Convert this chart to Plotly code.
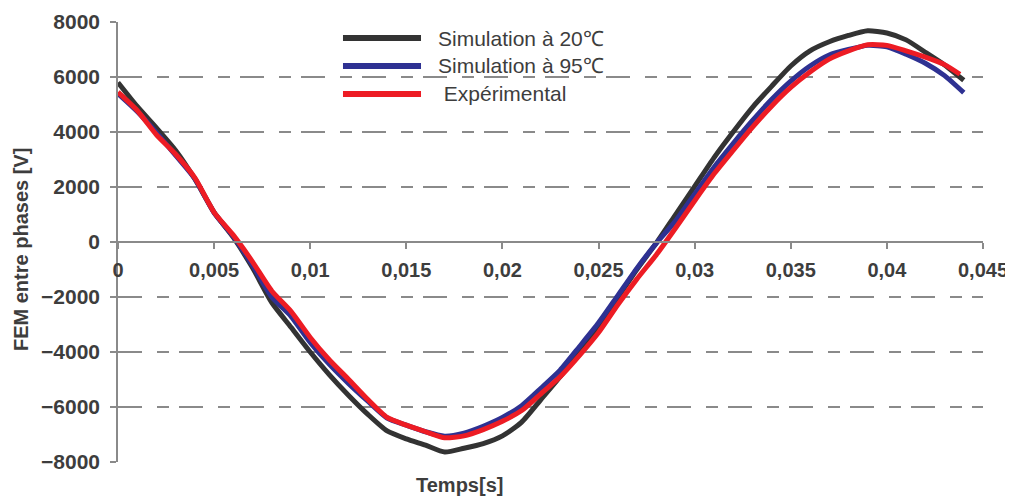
import plotly.graph_objects as go

# time axis [s]
t = [0.000, 0.001, 0.002, 0.003, 0.004, 0.005, 0.006, 0.007, 0.008, 0.009,
     0.010, 0.011, 0.012, 0.013, 0.014, 0.015, 0.016, 0.017, 0.018, 0.019,
     0.020, 0.021, 0.022, 0.023, 0.024, 0.025, 0.026, 0.027, 0.028, 0.029,
     0.030, 0.031, 0.032, 0.033, 0.034, 0.035, 0.036, 0.037, 0.038, 0.039,
     0.040, 0.041, 0.042, 0.043, 0.044]
t_exp = t[:-1] + [0.0438]

# Simulation à 20°C
sim20 = [5800, 4930, 4150, 3330, 2290, 1080, 170, -940, -2200, -3100,
         -4000, -4830, -5580, -6270, -6870, -7160, -7390, -7640, -7500, -7330,
         -7050, -6550, -5730, -4900, -3990, -3060, -2020, -990, -40, 990,
         2020, 3060, 4000, 4890, 5660, 6400, 6950, 7280, 7510, 7680,
         7600, 7350, 6900, 6440, 5880]

# Simulation à 95°C
sim95 = [5400, 4750, 3980, 3150, 2300, 1060, 200, -850, -2000, -2700,
         -3650, -4450, -5150, -5790, -6400, -6660, -6900, -7060, -6950, -6700,
         -6380, -5950, -5320, -4660, -3810, -2940, -1950, -950, -50, 760,
         1740, 2710, 3580, 4410, 5180, 5850, 6400, 6800, 7000, 7150,
         7100, 6830, 6500, 6050, 5430]

# Expérimental
exp = [5450, 4780, 3900, 3190, 2330, 1080, 250, -720, -1780, -2520,
       -3470, -4290, -5000, -5730, -6380, -6660, -6900, -7120, -7050, -6820,
       -6520, -6130, -5520, -4900, -4130, -3290, -2280, -1340, -470, 500,
       1500, 2470, 3330, 4170, 4940, 5620, 6180, 6650, 6950, 7170,
       7150, 6950, 6720, 6450, 6100]

names = ['Simulation à 20℃', 'Simulation à 95℃', ' Expérimental']
colors = ['#333333', '#2e3192', '#ed1c24']

xtick_vals = [0, 0.005, 0.01, 0.015, 0.02, 0.025, 0.03, 0.035, 0.04, 0.045]
xtick_text = ['0', '0,005', '0,01', '0,015', '0,02', '0,025', '0,03', '0,035', '0,04', '0,045']

FONT = 'Liberation Sans, Arial, sans-serif'
TXT = '#3d3d3d'
GRID = '#8a8a8a'

fig = go.Figure()
for xs, ys, nm, col in [(t, sim20, names[0], colors[0]),
                        (t, sim95, names[1], colors[1]),
                        (t_exp, exp, names[2], colors[2])]:
    fig.add_trace(go.Scatter(x=xs, y=ys, mode='lines', name=nm, showlegend=False,
                             line=dict(color=col, width=5, shape='spline', smoothing=0.6)))

# page body has an 8px margin, so the figure is shifted by 8px
fig.update_layout(
    width=1005, height=489,
    margin=dict(l=110, r=30, t=14, b=35, autoexpand=False),
    plot_bgcolor='white', paper_bgcolor='white',
    font=dict(family=FONT, color=TXT),
    xaxis=dict(range=[0, 0.045], anchor='free', position=0.5, automargin=False,
               tickvals=xtick_vals, ticktext=xtick_text, ticklabeloverflow='allow',
               ticks='outside', ticklen=6, tickcolor=GRID, tickwidth=1.5,
               showline=True, linecolor=GRID, linewidth=1.5,
               showgrid=False, zeroline=False, ticklabelstandoff=4,
               tickfont=dict(family=FONT, size=20, color=TXT, weight='bold')),
    yaxis=dict(range=[-8000, 8000], dtick=2000, automargin=False,
               ticks='outside', ticklen=6, tickcolor=GRID, tickwidth=1.5,
               showline=True, linecolor=GRID, linewidth=1.5,
               showgrid=True, gridcolor=GRID, gridwidth=1.5,
               griddash='24px,15px,12px,10px', zeroline=False,
               ticklabelstandoff=6,
               tickfont=dict(family=FONT, size=21, color=TXT, weight='bold')),
)

# legend drawn by hand
leg_y = [0.9636, 0.90, 0.8364]
for i in range(3):
    fig.add_shape(type='line', xref='paper', yref='paper',
                  x0=0.2601, x1=0.3503, y0=leg_y[i], y1=leg_y[i],
                  line=dict(color=colors[i], width=6))
    fig.add_annotation(text=names[i], xref='paper', yref='paper',
                       x=0.3676, y=leg_y[i], xanchor='left', yanchor='middle',
                       showarrow=False, font=dict(family=FONT, size=21, color=TXT))

fig.add_annotation(text='<b>Temps[s]</b>', xref='paper', yref='paper',
                   x=0.395, y=-0.052, xanchor='center', yanchor='middle',
                   showarrow=False, font=dict(family=FONT, size=20, color=TXT))
fig.add_annotation(text='<b>FEM entre phases [V]</b>', xref='paper', yref='paper',
                   x=-0.112, y=0.482, xanchor='center', yanchor='middle',
                   textangle=-90, showarrow=False,
                   font=dict(family=FONT, size=20, color=TXT))

fig.write_html("out.html")
